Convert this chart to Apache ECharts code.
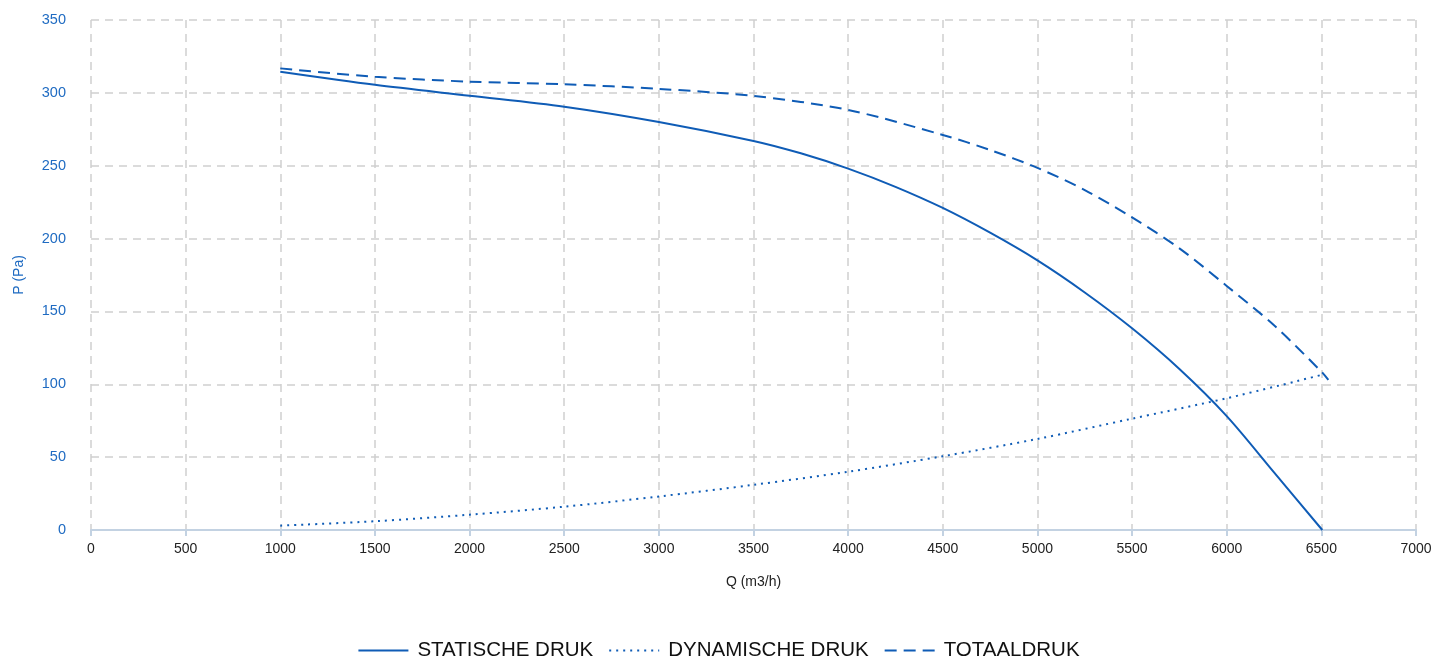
<!DOCTYPE html>
<html>
<head>
<meta charset="utf-8">
<script src="https://cdn.jsdelivr.net/npm/echarts@6/dist/echarts.min.js"></script>
<style>
html,body{margin:0;padding:0;background:#fff;}
#chart{width:1437px;height:659px;}
</style>
</head>
<body>
<div id="chart"></div>
<script>
// Data
const staticQ = [1000, 1500, 2000, 2500, 3000, 3500, 3750, 4000, 4250, 4500, 4750, 5000, 5250, 5500, 5750, 6000, 6250, 6505];
const staticP = [314.5, 305.5, 298, 290.5, 280, 267, 258.5, 248, 235.5, 221, 204, 185, 163, 138.4, 110.5, 78.2, 39.6, 0];

const dynQ = [1000, 1500, 2000, 2500, 3000, 3500, 4000, 4500, 5000, 5500, 6000, 6500];
const dynamicP = [3, 6, 10.5, 16, 23, 31, 40, 50.6, 62.5, 76.4, 90.4, 106.4];

const totQ = [1000, 1500, 2000, 2500, 3000, 3500, 4000, 4500, 4750, 5000, 5250, 5500, 5750, 6000, 6250, 6500, 6537];
const totalP = [316.8, 311, 307.7, 305.9, 302.7, 297.9, 288.3, 271.1, 260.8, 248.5, 233.3, 214.5, 193.3, 167.5, 140.5, 108.7, 103];

const seriesNames = ['STATISCHE DRUK', 'DYNAMISCHE DRUK', 'TOTAALDRUK'];
const xAxisName = 'Q (m3/h)';
const yAxisName = 'P (Pa)';

const zip = (xs, ys) => xs.map((x, i) => [x, ys[i]]);
const lineColor = '#0f5cb6';
const blue = '#1f6bc2';
const font = 'Liberation Sans, Arial, sans-serif';

const chart = echarts.init(document.getElementById('chart'));
const mkSeries = (name, data, type) => ({
  name, type: 'line', smooth: 0.3, showSymbol: false, symbol: 'none',
  data, lineStyle: { color: lineColor, width: 2, type },
  itemStyle: { color: lineColor }
});
chart.setOption({
  animation: false,
  grid: { left: 91, right: 21, top: 20, bottom: 129 },
  legend: {
    bottom: -7,
    left: 'center',
    itemWidth: 50,
    itemHeight: 14,
    itemGap: 15,
    itemStyle: { opacity: 0, color: 'rgba(0,0,0,0)', borderWidth: 0 },
    textStyle: { fontFamily: font, fontSize: 20.5, color: '#111', padding: [0, 0, 0, 4] },
    data: seriesNames
  },
  xAxis: {
    type: 'value',
    min: 0, max: 7000, interval: 500,
    name: xAxisName,
    nameLocation: 'middle',
    nameGap: 45,
    nameTextStyle: { color: '#222', fontSize: 14, fontFamily: font },
    axisLine: { show: true, lineStyle: { color: '#c3d2e2', width: 2 } },
    axisTick: { show: true, length: 6, lineStyle: { color: '#c3d2e2', width: 2 } },
    axisLabel: { color: '#222', fontSize: 14, margin: 12, fontFamily: font, formatter: v => String(v) },
    splitLine: { show: true, lineStyle: { color: '#cfcfcf', type: [8, 6], width: 1.5 } }
  },
  yAxis: {
    type: 'value',
    min: 0, max: 350, interval: 50,
    name: yAxisName,
    nameLocation: 'middle',
    nameGap: 65,
    nameRotate: 90,
    nameTextStyle: { color: blue, fontSize: 14, fontFamily: font },
    axisLine: { show: false },
    axisTick: { show: false },
    axisLabel: { color: blue, fontSize: 14.5, margin: 25, fontFamily: font, formatter: v => String(v) },
    splitLine: { show: true, lineStyle: { color: '#cfcfcf', type: [8, 6], width: 1.5 } }
  },
  series: [
    mkSeries(seriesNames[0], zip(staticQ, staticP), 'solid'),
    mkSeries(seriesNames[1], zip(dynQ, dynamicP), [2, 5]),
    mkSeries(seriesNames[2], zip(totQ, totalP), [12, 7])
  ]
});
</script>
</body>
</html>
